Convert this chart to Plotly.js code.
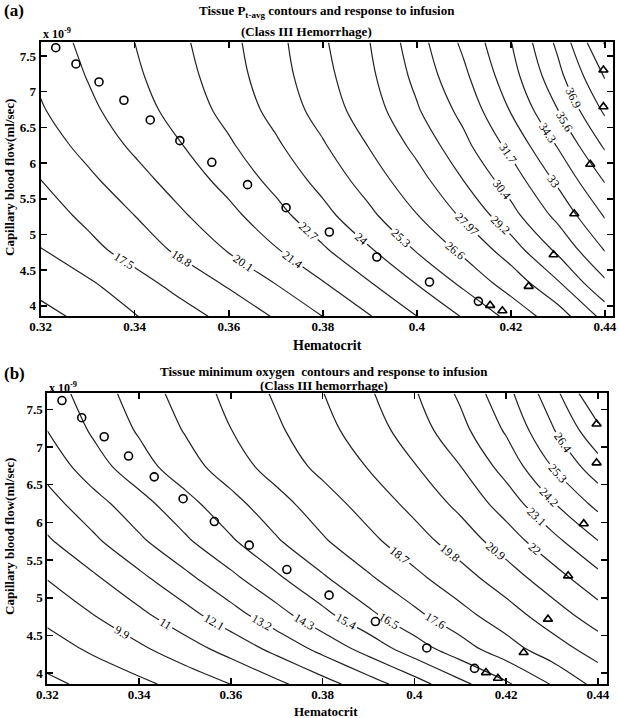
<!DOCTYPE html>
<html><head><meta charset="utf-8">
<script src="https://cdn.plot.ly/plotly-3.0.1.min.js"></script>
<style>html,body{margin:0;padding:0;background:#fff}</style>
</head><body>
<div id="chart" style="width:619px;height:718px"></div>
<script>
// ---- data ----
const hematocrit = [0.32,0.33,0.34,0.35,0.36,0.37,0.38,0.39,0.40,0.41,0.42,0.43,0.44];
const flowRowsA  = [3.855,4.32,4.78,5.27,5.76,6.25,6.74,7.22,7.69];
const flowRowsB  = [3.855,4.32,4.78,5.27,5.76,6.25,6.74,7.22,7.71];

// Tissue P_t-avg (panel a), rows follow flowRowsA
const ptavgRow1 = [14.44,15.29,16.14,16.99,17.90,18.92,20.11,21.34,22.69,24.12,25.67,27.37,29.60];
const ptavgRow2 = [15.40,16.02,17.01,17.99,18.99,20.14,21.32,22.63,24.06,25.59,27.22,29.06,31.46];
const ptavgRow3 = [16.15,17.08,18.05,19.08,20.19,21.30,22.51,23.87,25.39,26.90,28.59,30.64,33.05];
const ptavgRow4 = [16.85,17.81,18.81,19.95,21.04,22.26,23.59,25.04,26.56,28.19,29.98,32.06,34.42];
const ptavgRow5 = [17.49,18.51,19.61,20.71,21.83,23.09,24.44,25.91,27.48,29.22,31.01,33.25,35.70];
const ptavgRow6 = [18.10,19.23,20.34,21.37,22.52,23.80,25.17,26.69,28.34,30.07,32.07,34.40,37.10];
const ptavgRow7 = [18.67,19.80,20.85,21.92,23.11,24.42,25.83,27.36,29.07,30.79,33.08,35.58,38.42];
const ptavgRow8 = [19.05,20.16,21.18,22.25,23.45,24.75,26.18,27.73,29.53,31.43,33.78,36.51,39.60];
const ptavgRow9 = [19.42,20.41,21.40,22.48,23.64,24.91,26.41,27.96,29.87,31.98,34.25,37.19,40.90];

// Tissue minimum oxygen (panel b), rows follow flowRowsB
const minO2Row1 = [7.44,7.99,8.54,9.19,9.91,10.76,11.68,12.70,13.83,15.11,16.33,17.67,19.05];
const minO2Row2 = [8.29,8.98,9.70,10.51,11.40,12.41,13.52,14.72,15.96,17.12,18.23,19.30,20.27];
const minO2Row3 = [9.12,9.90,10.76,11.73,12.79,13.90,15.12,16.27,17.37,18.36,19.34,20.38,21.50];
const minO2Row4 = [9.96,10.84,11.86,12.94,14.05,15.24,16.37,17.47,18.44,19.39,20.38,21.53,22.78];
const minO2Row5 = [10.87,11.90,13.01,14.13,15.27,16.40,17.48,18.44,19.37,20.33,21.46,22.77,24.20];
const minO2Row6 = [11.69,12.77,13.91,15.03,16.14,17.21,18.21,19.16,20.12,21.18,22.50,24.10,25.62];
const minO2Row7 = [12.48,13.83,14.95,16.03,17.08,18.07,18.99,19.86,20.83,21.98,23.53,25.31,27.04];
const minO2Row8 = [13.21,14.45,15.52,16.57,17.58,18.53,19.44,20.38,21.44,22.76,24.33,26.28,28.32];
const minO2Row9 = [13.75,14.83,15.91,16.95,17.91,18.86,19.77,20.75,21.89,23.29,24.95,27.04,29.70];

const levelsA = [14.9,16.2,17.5,18.8,20.1,21.4,22.7,24,25.3,26.6,27.97,29.2,30.4,31.7,33,34.3,35.6,36.9,38.2,39.5,40.8];
const labelA  = [false,false,true,true,true,true,true,true,true,true,true,true,true,true,true,true,true,true,true,true,false];
const levelsB = [7.7,8.8,9.9,11,12.1,13.2,14.3,15.4,16.5,17.6,18.7,19.8,20.9,22,23.1,24.2,25.3,26.4,27.5,28.6];
const labelB  = [false,false,true,true,true,true,true,true,true,true,true,true,true,true,true,true,true,true,true,false];

// infusion response (same points in both panels)
const circleHct  = [0.3232,0.3275,0.3324,0.3377,0.3433,0.3496,0.3564,0.3640,0.3722,0.3814,0.3915,0.4027,0.4131];
const circleFlow = [7.616,7.388,7.136,6.880,6.604,6.314,6.011,5.698,5.375,5.035,4.685,4.335,4.064];
const triHct     = [0.4156,0.4182,0.4238,0.4291,0.4335,0.4369,0.4397,0.4397];
const triFlow    = [4.008,3.933,4.274,4.717,5.291,5.983,6.790,7.304];

const xTickVals = [0.32,0.34,0.36,0.38,0.40,0.42,0.44];
const xTickText = ['0.32','0.34','0.36','0.38','0.4','0.42','0.44'];
const yTickVals = [4,4.5,5,5.5,6,6.5,7,7.5];
const yTickText = ['4','4.5','5','5.5','6','6.5','7','7.5'];

// ---- figure ----
const W = 619, H = 718;
const FX = v => v / W, FY = v => 1 - v / H;
const serif = 'Liberation Serif, Times New Roman, serif';
const zA = [ptavgRow1,ptavgRow2,ptavgRow3,ptavgRow4,ptavgRow5,ptavgRow6,ptavgRow7,ptavgRow8,ptavgRow9];
const zB = [minO2Row1,minO2Row2,minO2Row3,minO2Row4,minO2Row5,minO2Row6,minO2Row7,minO2Row8,minO2Row9];

const traces = [];
function addContours(z, rows, levels, labels, xa, ya) {
  levels.forEach((v, i) => {
    traces.push({
      type: 'contour', x: hematocrit, y: rows, z: z, xaxis: xa, yaxis: ya,
      autocontour: false,
      contours: {coloring: 'none', start: v, end: v + 0.001, size: 1,
                 showlabels: labels[i], labelformat: '.4~g',
                 labelfont: {family: serif, size: 12, color: '#000'}},
      line: {color: '#222', width: 1.2, smoothing: 1},
      showscale: false, hoverinfo: 'skip', showlegend: false
    });
  });
}
function addMarkers(xa, ya) {
  traces.push({type:'scatter', mode:'markers', x: circleHct, y: circleFlow, xaxis: xa, yaxis: ya,
    marker:{symbol:'circle-open', size:8, color:'#000', line:{width:1.6, color:'#000'}}, showlegend:false, hoverinfo:'skip'});
  traces.push({type:'scatter', mode:'markers', x: triHct, y: triFlow, xaxis: xa, yaxis: ya,
    marker:{symbol:'triangle-up-open', size:8, color:'#000', line:{width:1.6, color:'#000'}}, showlegend:false, hoverinfo:'skip'});
}
addContours(zA, flowRowsA, levelsA, labelA, 'x', 'y');
addMarkers('x', 'y');
addContours(zB, flowRowsB, levelsB, labelB, 'x2', 'y2');
addMarkers('x2', 'y2');

const tickFont = {family: serif, size: 13, color: '#000', weight: 'bold'};
function xAxis(dom, range, anchor) {
  return {domain: dom, range: range, anchor: anchor, tickvals: xTickVals, ticktext: xTickText,
    ticks: 'inside', ticklen: 6, tickwidth: 1.5, tickcolor: '#000', showline: true, linewidth: 2,
    linecolor: '#000', mirror: 'ticks', showgrid: false, zeroline: false, tickfont: tickFont,
    ticklabelstandoff: -3, fixedrange: true};
}
function yAxis(dom, range, anchor) {
  return {domain: dom, range: range, anchor: anchor, tickvals: yTickVals, ticktext: yTickText,
    ticks: 'inside', ticklen: 6, tickwidth: 1.5, tickcolor: '#000', showline: true, linewidth: 2,
    linecolor: '#000', mirror: 'ticks', showgrid: false, zeroline: false, tickfont: tickFont, fixedrange: true};
}
function ann(text, x, y, size, opts) {
  return Object.assign({text: text, x: FX(x), y: FY(y), xref: 'paper', yref: 'paper', showarrow: false,
    xanchor: 'center', yanchor: 'middle', font: {family: serif, size: size, color: '#000', weight: 'bold'}}, opts || {});
}

const layout = {
  width: W, height: H, margin: {l: 0, r: 0, t: 0, b: 0}, paper_bgcolor: '#fff', plot_bgcolor: '#fff',
  showlegend: false,
  xaxis:  xAxis([FX(40.7), FX(613.3)], [0.32, 0.4418], 'y'),
  yaxis:  yAxis([FY(316), FY(42.4)], [3.859, 7.690], 'x'),
  xaxis2: xAxis([FX(47.3), FX(606.7)], [0.32, 0.4419], 'y2'),
  yaxis2: yAxis([FY(684), FY(393.3)], [3.857, 7.712], 'x2'),
  annotations: [
    ann('(a)', 2, 11, 17, {xanchor: 'left'}),
    ann('Tissue P<sub>t-avg</sub> contours and response to infusion', 327, 12, 13),
    ann('(Class III Hemorrhage)', 306, 32, 13),
    ann('x 10<sup>-9</sup>', 41, 34, 12, {xanchor: 'left'}),
    ann('Hematocrit', 327, 345, 14),
    ann('Capillary blood flow(ml/sec)', 9, 178, 13, {textangle: -90}),
    ann('(b)', 2, 373, 17, {xanchor: 'left'}),
    ann('Tissue minimum oxygen  contours and response to infusion', 324, 371, 13),
    ann('(Class III hemorrhage)', 324, 385, 13),
    ann('x 10<sup>-9</sup>', 47, 387, 12, {xanchor: 'left'}),
    ann('Hematocrit', 326, 711, 13),
    ann('Capillary blood flow(ml/sec)', 9, 537, 13, {textangle: -90})
  ]
};
Plotly.newPlot('chart', traces, layout, {staticPlot: true, displayModeBar: false});
</script>
</body></html>
